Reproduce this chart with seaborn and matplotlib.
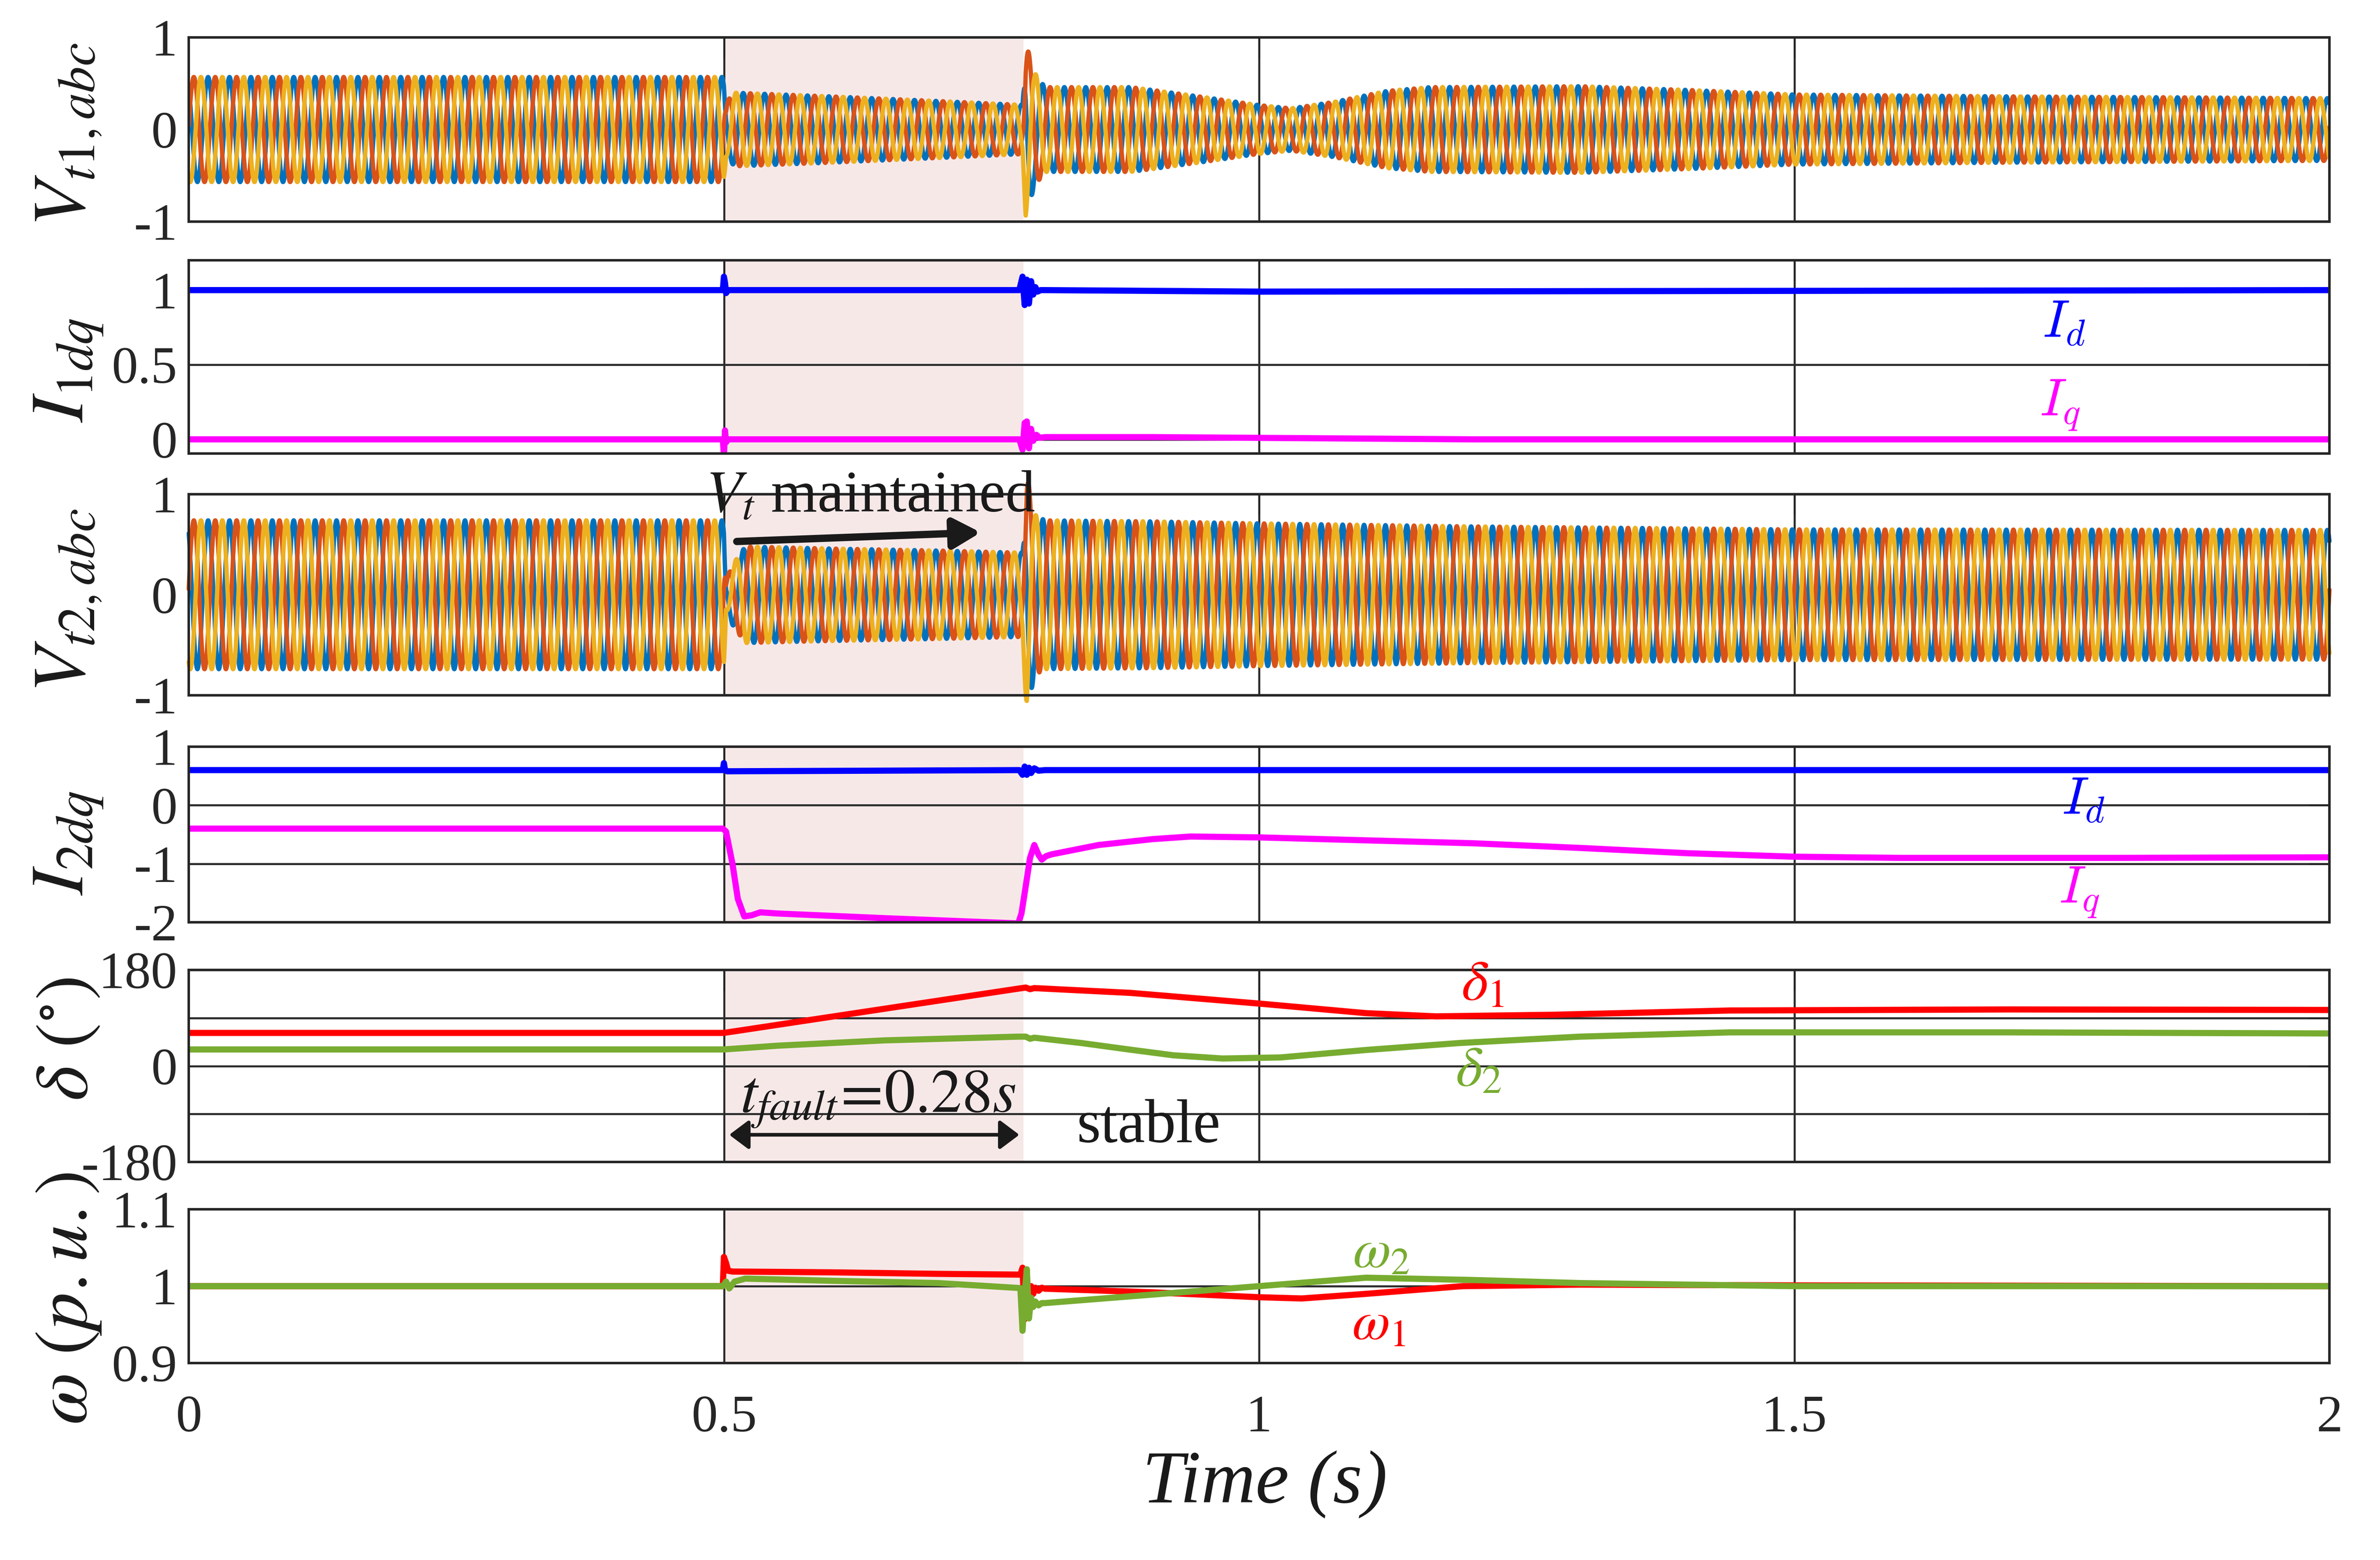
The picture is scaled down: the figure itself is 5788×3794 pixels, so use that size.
#!/usr/bin/env python3
"""Two-source fault ride-through: stacked time-domain traces."""
import matplotlib

matplotlib.use("Agg")
import matplotlib.pyplot as plt
import numpy as np
import pandas as pd
import seaborn as sns

# ---- values ------------------------------------------------------------
GRID_HZ = 50.0
FAULT_START, FAULT_END = 0.5, 0.78
PHASE_NAMES = ["a", "b", "c"]
PHASE_DEG = [0, -120, 120]

# envelope of V_t1,abc (time, peak amplitude)
VT1_T = [0, 0.5, 0.502, 0.51, 0.6, 0.7, 0.775, 0.779, 0.782, 0.79, 0.80, 0.88,
         0.90, 0.95, 1.0, 1.03, 1.07, 1.12, 1.16, 1.3, 1.4, 1.5, 1.7, 2.0]
VT1_A = [0.57, 0.57, 0.30, 0.40, 0.36, 0.31, 0.27, 0.27, 0.95, 0.62, 0.46, 0.46,
         0.43, 0.35, 0.265, 0.23, 0.30, 0.42, 0.46, 0.47, 0.43, 0.38, 0.36, 0.34]

# envelope of V_t2,abc
VT2_T = [0, 0.5, 0.502, 0.508, 0.52, 0.6, 0.7, 0.775, 0.779, 0.783, 0.79, 0.80,
         0.9, 1.0, 1.2, 1.4, 1.5, 2.0]
VT2_A = [0.74, 0.74, 0.15, 0.30, 0.48, 0.46, 0.44, 0.42, 0.42, 1.2, 0.80, 0.74,
         0.73, 0.71, 0.68, 0.66, 0.65, 0.645]

# I_1dq
I1D_T = [0, 0.499, 0.5, 0.501, 0.502, 0.504, 0.776, 0.779, 0.781, 0.783,
         0.785, 0.787, 0.789, 0.791, 0.793, 0.796, 0.80, 1.0, 2.0]
I1D_V = [1.0, 1.0, 1.09, 1.05, 0.98, 1.0, 1.0, 1.09, 0.90, 1.07,
         0.91, 1.06, 0.97, 1.02, 0.99, 1.0, 1.0, 0.99, 1.0]
I1Q_T = [0, 0.499, 0.5, 0.501, 0.502, 0.504, 0.776, 0.779, 0.781, 0.783,
         0.785, 0.787, 0.789, 0.792, 0.795, 0.80, 0.9, 1.0, 1.2, 2.0]
I1Q_V = [0, 0, -0.11, 0.06, -0.02, 0.0, 0.0, -0.07, 0.11, 0.12,
         -0.06, 0.07, -0.01, 0.03, 0.01, 0.015, 0.015, 0.01, 0.0, 0.0]

# I_2dq
I2D_T = [0, 0.499, 0.5, 0.501, 0.503, 0.776, 0.779, 0.781, 0.783, 0.785,
         0.787, 0.790, 0.794, 0.80, 2.0]
I2D_V = [0.6, 0.6, 0.72, 0.6, 0.58, 0.6, 0.52, 0.66, 0.52, 0.64,
         0.55, 0.63, 0.59, 0.6, 0.6]
I2Q_T = [0, 0.499, 0.502, 0.508, 0.513, 0.519, 0.526, 0.534, 0.55, 0.65,
         0.775, 0.778, 0.781, 0.786, 0.790, 0.794, 0.797, 0.801, 0.806, 0.85,
         0.9, 0.936, 1.0, 1.1, 1.2, 1.3, 1.4, 1.5, 1.6, 1.8, 2.0]
I2Q_V = [-0.4, -0.4, -0.45, -1.0, -1.6, -1.9, -1.88, -1.83, -1.85, -1.93,
         -2.02, -1.85, -1.5, -0.9, -0.68, -0.85, -0.93, -0.87, -0.84, -0.68,
         -0.58, -0.535, -0.55, -0.60, -0.65, -0.73, -0.82, -0.88, -0.9, -0.9, -0.89]

# rotor angles (deg)
D1_T = [0, 0.5, 0.775, 0.782, 0.786, 0.79, 0.88, 1.0, 1.1, 1.165, 1.275, 1.44, 1.7, 2.0]
D1_V = [62, 62, 145, 147, 144, 146, 137, 117, 99, 93, 96, 104, 106, 105]
D2_T = [0, 0.5, 0.55, 0.65, 0.775, 0.782, 0.786, 0.79, 0.834, 0.878, 0.92,
        0.966, 1.02, 1.1, 1.187, 1.3, 1.44, 1.7, 2.0]
D2_V = [31, 31, 38, 48, 55, 55, 51, 53, 43, 31, 20,
        14, 16, 30, 43, 55, 63, 63, 61]

# frequencies (p.u.)
W1_T = [0, 0.499, 0.5, 0.502, 0.504, 0.508, 0.6, 0.7, 0.777, 0.779, 0.781,
        0.783, 0.785, 0.787, 0.789, 0.791, 0.794, 0.797, 0.80, 0.9, 1.0, 1.04,
        1.1, 1.19, 1.3, 1.5, 2.0]
W1_V = [1.0, 1.0, 1.038, 1.03, 1.02, 1.019, 1.018, 1.016, 1.015, 1.024, 0.957,
        1.012, 0.975, 1.0, 0.99, 0.998, 0.994, 0.998, 0.9967, 0.992, 0.9856, 0.984,
        0.99, 1.0, 1.002, 1.001, 1.0]
W2_T = [0, 0.499, 0.502, 0.505, 0.51, 0.52, 0.6, 0.7, 0.777, 0.779, 0.781,
        0.783, 0.785, 0.787, 0.789, 0.791, 0.794, 0.797, 0.80, 0.9, 1.0, 1.1,
        1.2, 1.3, 1.5, 2.0]
W2_V = [1.0, 1.0, 1.006, 0.997, 1.006, 1.0098, 1.007, 1.004, 0.9975, 0.942, 0.99,
        1.022, 0.958, 0.985, 0.973, 0.98, 0.975, 0.978, 0.978, 0.989, 1.0, 1.011,
        1.008, 1.004, 1.0, 1.0]

X_TICKS = [0, 0.5, 1, 1.5, 2]
X_TICK_LABELS = ["0", "0.5", "1", "1.5", "2"]

# ---- styling ------------------------------------------------------------
PHASE_COLORS = ["#0072BD", "#D95319", "#EDB120"]
C_D, C_Q = "#0000FF", "#FF00FF"
C_1, C_2 = "#FF0000", "#77AC30"
FAULT_SHADE = "#F7E8E8"
INK = "#262626"

sns.set_theme(style="white")
plt.rcParams["font.family"] = "serif"
plt.rcParams["font.serif"] = ["Liberation Serif", "DejaVu Serif"]
plt.rcParams["mathtext.fontset"] = "stix"
plt.rcParams["axes.unicode_minus"] = False

W, H = 5788, 3794
LEFT, WIDTH = 459 / W, 5206 / W
# (top px, bottom px) of each panel
ROWS = [(91, 539), (633, 1103), (1202, 1691), (1816, 2243), (2359, 2826), (2941, 3315)]


def three_phase(env_t, env_a):
    t = np.linspace(0, 2, 12001)
    amp = np.interp(t, env_t, env_a)
    frames = []
    for name, ph in zip(PHASE_NAMES, PHASE_DEG):
        v = amp * np.cos(2 * np.pi * GRID_HZ * t + np.deg2rad(ph) + 0.6)
        frames.append(pd.DataFrame({"t": t, "v": v, "sig": name}))
    return pd.concat(frames, ignore_index=True)


def pair(t1, v1, t2, v2):
    return pd.concat([
        pd.DataFrame({"t": t1, "v": v1, "sig": "1"}),
        pd.DataFrame({"t": t2, "v": v2, "sig": "2"}),
    ], ignore_index=True)


def draw(ax, df, colors, lw):
    sns.lineplot(data=df, x="t", y="v", hue="sig", palette=colors,
                 estimator=None, sort=False, legend=False, lw=lw, ax=ax)


def style(ax, ylim, yticks, ylabels, label, label_y=0.5, bottom=False):
    ax.set_xlim(0, 2)
    ax.set_ylim(*ylim)
    ax.set_xticks(X_TICKS)
    ax.set_xticklabels(X_TICK_LABELS if bottom else [])
    ax.set_yticks(yticks)
    ax.set_yticklabels(ylabels)
    ax.tick_params(direction="in", length=9, width=0.9, top=True, right=True,
                   labelsize=23, color=INK, labelcolor=INK)
    ax.tick_params(axis="x", pad=14)
    ax.tick_params(axis="y", pad=5)
    ax.grid(True, color="#2e2e2e", lw=0.9)
    ax.set_axisbelow(True)
    for s in ax.spines.values():
        s.set_visible(True)
        s.set_color(INK)
        s.set_linewidth(1.1)
    ax.axvspan(FAULT_START, FAULT_END, color=FAULT_SHADE, lw=0, zorder=0)
    ax.set_xlabel("")
    ax.set_ylabel(label, fontsize=33, va="center", color="k")
    ax.yaxis.set_label_coords(-0.056, label_y)


def main():
    fig = plt.figure(figsize=(W / 400, H / 400), dpi=400)
    axes = []
    for top, bot in ROWS:
        axes.append(fig.add_axes([LEFT, 1 - bot / H, WIDTH, (bot - top) / H]))
    ax1, ax2, ax3, ax4, ax5, ax6 = axes

    # V_t1,abc
    draw(ax1, three_phase(VT1_T, VT1_A), PHASE_COLORS, 1.9)
    style(ax1, (-1, 1), [-1, 0, 1], ["-1", "0", "1"], r"$V_{t1,abc}$", 0.47)

    # I_1dq
    draw(ax2, pair(I1D_T, I1D_V, I1Q_T, I1Q_V), [C_D, C_Q], 2.7)
    style(ax2, (-0.095, 1.2), [0, 0.5, 1], ["0", "0.5", "1"], r"$I_{1dq}$", 0.43)
    ax2.text(1.752, 0.77, r"$I_d$", color=C_D, fontsize=23, ha="center",
             va="center", math_fontfamily="cm")
    ax2.text(1.748, 0.23, r"$I_q$", color=C_Q, fontsize=23, ha="center",
             va="center", math_fontfamily="cm")

    # V_t2,abc
    draw(ax3, three_phase(VT2_T, VT2_A), PHASE_COLORS, 1.9)
    for ln in ax3.lines:
        ln.set_clip_on(False)
    style(ax3, (-1, 1), [-1, 0, 1], ["-1", "0", "1"], r"$V_{t2,abc}$", 0.47)
    ax3.text(0.483, 0.83, r"$V_t$ maintained", fontsize=26, ha="left",
             va="baseline", color="k")
    ax3.annotate("", xy=(0.74, 0.62), xytext=(0.512, 0.53),
                 arrowprops=dict(arrowstyle="-|>,head_length=0.45,head_width=0.25",
                                 lw=3.2, color="k", mutation_scale=22,
                                 shrinkA=0, shrinkB=0))

    # I_2dq
    draw(ax4, pair(I2D_T, I2D_V, I2Q_T, I2Q_V), [C_D, C_Q], 2.7)
    style(ax4, (-2, 1), [-2, -1, 0, 1], ["-2", "-1", "0", "1"], r"$I_{2dq}$", 0.45)
    ax4.text(1.77, 0.06, r"$I_d$", color=C_D, fontsize=23, ha="center",
             va="center", math_fontfamily="cm")
    ax4.text(1.766, -1.49, r"$I_q$", color=C_Q, fontsize=23, ha="center",
             va="center", math_fontfamily="cm")

    # rotor angles
    draw(ax5, pair(D1_T, D1_V, D2_T, D2_V), [C_1, C_2], 2.7)
    style(ax5, (-180, 180), [-180, -90, 0, 90, 180], ["-180", "", "0", "", "180"],
          r"$\delta\ (^{\circ})$", 0.64)
    ax5.text(1.209, 150, r"$\delta_1$", color=C_1, fontsize=25, ha="center", va="center")
    ax5.text(1.205, -11, r"$\delta_2$", color=C_2, fontsize=25, ha="center", va="center")
    ax5.text(0.515, -86, r"$t_{fault}\!=\!0.28s$", fontsize=27, ha="left",
             va="baseline", color="k")
    ax5.annotate("", xy=(0.776, -129), xytext=(0.505, -129),
                 arrowprops=dict(arrowstyle="<|-|>,head_length=0.4,head_width=0.3",
                                 lw=1.6, color="k", mutation_scale=18,
                                 shrinkA=0, shrinkB=0))
    ax5.text(0.897, -115, "stable", fontsize=27, ha="center", va="center", color="k")

    # frequencies
    draw(ax6, pair(W1_T, W1_V, W2_T, W2_V), [C_1, C_2], 2.7)
    style(ax6, (0.9, 1.1), [0.9, 1.0, 1.1], ["0.9", "1", "1.1"],
          r"$\omega\ (p.u.)$", 0.42, bottom=True)
    ax6.text(1.114, 1.042, r"$\omega_2$", color=C_2, fontsize=24, ha="center", va="center")
    ax6.text(1.112, 0.948, r"$\omega_1$", color=C_1, fontsize=24, ha="center", va="center")
    ax6.set_xlabel("Time (s)", fontsize=33, fontstyle="italic", va="center", color="k")
    ax6.xaxis.set_label_coords(0.5027, -0.79)

    fig.savefig("out.png", dpi=400)
    plt.close(fig)


if __name__ == "__main__":
    main()
